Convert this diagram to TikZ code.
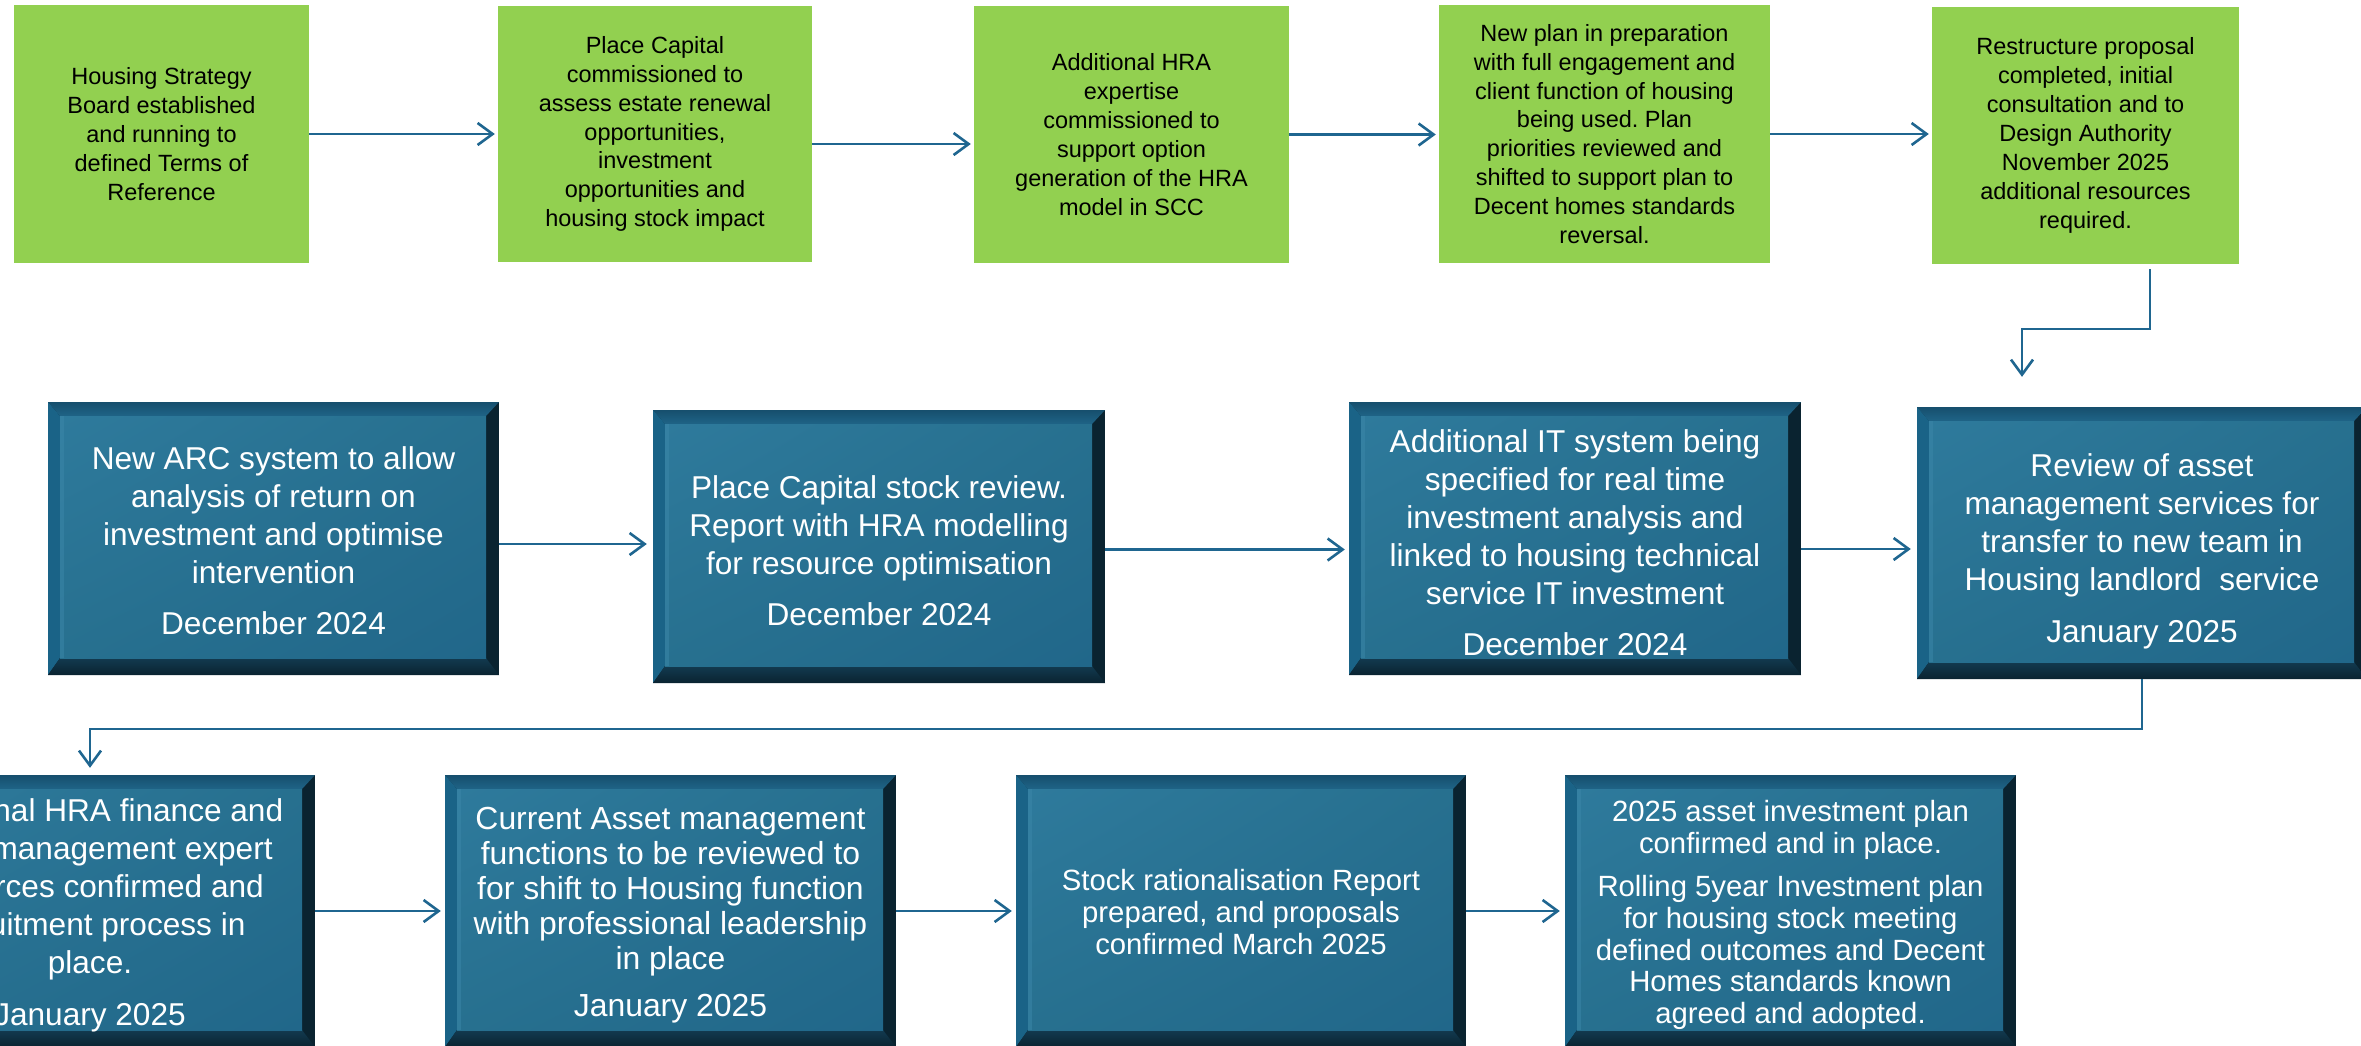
\documentclass[tikz,border=0pt]{standalone}
\usepackage{fontspec}
\setmainfont{Liberation Sans}
\usetikzlibrary{arrows.meta,shadings}
\frenchspacing

\definecolor{leaf}{HTML}{92D050}
\definecolor{link}{HTML}{1F6690}
\definecolor{bvdark}{HTML}{0A2330}
\definecolor{bvbottom}{HTML}{123A50}
\definecolor{bvtopA}{HTML}{164F6D}
\definecolor{bvtopB}{HTML}{1F6487}
\definecolor{bvleft}{HTML}{1A6387}
\definecolor{faceA}{HTML}{2E7A9C}
\definecolor{faceM}{HTML}{27708F}
\definecolor{faceB}{HTML}{21678A}
\definecolor{faceglow}{HTML}{3B86A8}

\tikzset{
  greenbox/.style={fill=leaf, inner sep=0pt, text=black, align=center,
    font=\fontsize{23.5}{28.9}\selectfont},
  bluetxt/.style={inner sep=0pt, text=white, align=center,
    font=\fontsize{31.6}{38}\selectfont},
  tighttxt/.style={font=\fontsize{31.9}{35}\selectfont},
  smalltxt/.style={font=\fontsize{29.3}{31.6}\selectfont},
  arr/.style={draw=link, line width=2.6pt,
    -{Straight Barb[length=15pt,width=22pt]}},
}

% bevelled panel: name, text style, x1, y1, x2, y2, text
\newcommand{\bevelpanel}[7]{%
  \fill[bvdark] (#3,#4) rectangle (#5,#6);
  \shade[top color=bvtopA, bottom color=bvtopB]
    (#3,#4) -- (#5,#4) -- (#5-13,#4+14) -- (#3+12,#4+14) -- cycle;
  \fill[bvleft]
    (#3,#4) -- (#3+12,#4+14) -- (#3+12,#6-17) -- (#3,#6) -- cycle;
  \shade[top color=bvbottom, bottom color=bvdark]
    (#3,#6) -- (#3+12,#6-17) -- (#5-13,#6-17) -- (#5,#6) -- cycle;
  \shade[upper left=faceA, upper right=faceM, lower left=faceM, lower right=faceB]
    (#3+12,#4+14) rectangle (#5-13,#6-17);
  \fill[faceglow, opacity=0.55] (#3+12,#4+14) rectangle (#3+16,#6-17);
  \node[inner sep=0pt, minimum width={#5-(#3)}, minimum height={#6-(#4)}]
    (#1) at ({(#3+#5)/2},{(#4+#6)/2}) {};
  \node[bluetxt, yshift=-4pt, #2] (#1-text) at (#1.center) {#7};
}

\begin{document}
\begin{tikzpicture}[x=1pt, y=-1pt]
\useasboundingbox (0,0) rectangle (2361,1045);
\fill[white] (0,0) rectangle (2361,1045);
\clip (0,0) rectangle (2361,1045);

% first row: green milestones
\node[greenbox, minimum width=295, minimum height=258] (G1) at (161.5,134)
  {Housing Strategy\\Board established\\and running to\\defined Terms of\\Reference};
\node[greenbox, minimum width=314, minimum height=256] (G2) at (655,134)
  {Place Capital\\commissioned to\\assess estate renewal\\opportunities,\\investment\\opportunities and\\housing stock impact};
\node[greenbox, minimum width=315, minimum height=257] (G3) at (1131.5,134.5)
  {Additional HRA\\expertise\\commissioned to\\support option\\generation of the HRA\\model in SCC};
\node[greenbox, minimum width=331, minimum height=258] (G4) at (1604.5,134)
  {New plan in preparation\\with full engagement and\\client function of housing\\being used. Plan\\priorities reviewed and\\shifted to support plan to\\Decent homes standards\\reversal.};
\node[greenbox, minimum width=307, minimum height=257] (G5) at (2085.5,135.5)
  {Restructure proposal\\completed, initial\\consultation and to\\Design Authority\\November 2025\\additional resources\\required.};

% second row: bevelled panels
\bevelpanel{B1}{yshift=2pt}{48}{402}{499}{675}
  {New ARC system to allow\\analysis of return on\\investment and optimise\\intervention\\[13pt]December 2024}
\bevelpanel{B2}{}{653}{410}{1105}{683}
  {Place Capital stock review.\\Report with HRA modelling\\for resource optimisation\\[13pt]December 2024}
\bevelpanel{B3}{}{1349}{402}{1801}{675}
  {Additional IT system being\\specified for real time\\investment analysis and\\linked to housing technical\\service IT investment\\[13pt]December 2024}
\bevelpanel{B4}{yshift=-4pt}{1917}{407}{2367}{679}
  {Review of asset\\management services for\\transfer to new team in\\Housing landlord\ \ service\\[14pt]January 2025}

% third row: bevelled panels
\bevelpanel{C1}{}{-135}{775}{315}{1047}
  {Additional HRA finance and\\asset management expert\\resources confirmed and\\recruitment process in\\place.\\[14pt]January 2025}
\bevelpanel{C2}{tighttxt}{445}{775}{896}{1047}
  {Current Asset management\\functions to be reviewed to\\for shift to Housing function\\with professional leadership\\in place\\[12pt]January 2025}
\bevelpanel{C3}{smalltxt, yshift=3pt}{1016}{775}{1466}{1047}
  {Stock rationalisation Report\\prepared, and proposals\\confirmed March 2025}
\bevelpanel{C4}{smalltxt}{1565}{775}{2016}{1047}
  {2025 asset investment plan\\confirmed and in place.\\[12pt]Rolling 5year Investment plan\\for housing stock meeting\\defined outcomes and Decent\\Homes standards known\\agreed and adopted.}

% connectors, first row
\draw[arr, shorten >=3pt] (G1.east) -- (G1.east -| G2.west);
\draw[arr, shorten >=3pt] ([yshift=-10pt]G2.east) -- ([yshift=-10pt]G2.east -| G3.west);
\draw[arr, shorten >=3pt] (G3.east) -- (G3.east -| G4.west);
\draw[arr, shorten >=3pt] (G4.east) -- (G4.east -| G5.west);

% turn down to the second row
\coordinate (e1) at (2150,329);
\coordinate (e2) at (2022,329);
\draw[arr, shorten <=5pt, shorten >=30pt] (G5.south -| e1) -- (e1) -- (e2) -- (e2 |- B4.north);

% connectors, second row
\draw[arr, shorten >=6pt] ([yshift=-5.5pt]B1.east) -- ([yshift=-5.5pt]B1.east -| B2.west);
\draw[arr, shorten >=4pt] ([yshift=-3pt]B2.east) -- ([yshift=-3pt]B2.east -| B3.west);
\draw[arr, shorten >=6pt] ([yshift=-10.5pt]B3.east) -- ([yshift=-10.5pt]B3.east -| B4.west);

% turn down to the third row
\coordinate (e3) at (0,729);
\draw[arr, shorten >=7pt] (B4.south) |- (C1.north |- e3) -- (C1.north);

% connectors, third row
\draw[arr, shorten >=4pt] (C1.east) -- (C1.east -| C2.west);
\draw[arr, shorten >=4pt] (C2.east) -- (C2.east -| C3.west);
\draw[arr, shorten >=5pt] (C3.east) -- (C3.east -| C4.west);
\end{tikzpicture}
\end{document}
